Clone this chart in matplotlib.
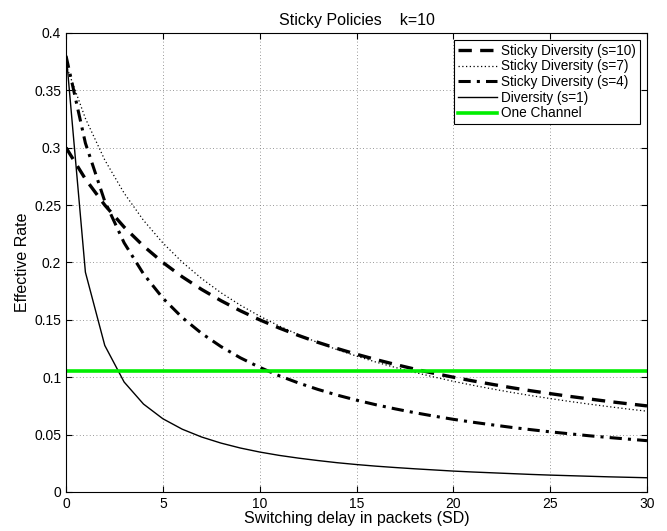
import matplotlib
matplotlib.use('Agg')
import matplotlib.pyplot as plt

# switching delay in packets (SD)
sd = list(range(0, 31))

sticky_s10 = [0.3, 0.2727, 0.25, 0.2308, 0.2143, 0.2, 0.1875, 0.1765, 0.1667, 0.1579,
              0.15, 0.1429, 0.1364, 0.1304, 0.125, 0.12, 0.1154, 0.1111, 0.1071, 0.1034,
              0.1, 0.0968, 0.0938, 0.0909, 0.0882, 0.0857, 0.0833, 0.0811, 0.0789, 0.0769,
              0.075]
sticky_s7 = [0.372, 0.3255, 0.2893, 0.2604, 0.2367, 0.217, 0.2003, 0.186, 0.1736, 0.1628,
             0.1532, 0.1447, 0.1371, 0.1302, 0.124, 0.1184, 0.1132, 0.1085, 0.1042, 0.1002,
             0.0964, 0.093, 0.0898, 0.0868, 0.084, 0.0814, 0.0789, 0.0766, 0.0744, 0.0723,
             0.0704]
sticky_s4 = [0.38, 0.304, 0.2533, 0.2171, 0.19, 0.1689, 0.152, 0.1382, 0.1267, 0.1169,
             0.1086, 0.1013, 0.095, 0.0894, 0.0844, 0.08, 0.076, 0.0724, 0.0691, 0.0661,
             0.0633, 0.0608, 0.0585, 0.0563, 0.0543, 0.0524, 0.0507, 0.049, 0.0475, 0.0461,
             0.0447]
diversity_s1 = [0.383, 0.1915, 0.1277, 0.0958, 0.0766, 0.0638, 0.0547, 0.0479, 0.0426, 0.0383,
                0.0348, 0.0319, 0.0295, 0.0274, 0.0255, 0.0239, 0.0225, 0.0213, 0.0202, 0.0192,
                0.0182, 0.0174, 0.0167, 0.016, 0.0153, 0.0147, 0.0142, 0.0137, 0.0132, 0.0128,
                0.0124]
one_channel = 0.105

x_ticks = [0, 5, 10, 15, 20, 25, 30]
y_ticks = [0, 0.05, 0.1, 0.15, 0.2, 0.25, 0.3, 0.35, 0.4]
y_tick_labels = ['0', '0.05', '0.1', '0.15', '0.2', '0.25', '0.3', '0.35', '0.4']

plt.rcParams['font.family'] = ['Liberation Sans', 'DejaVu Sans']

fig = plt.figure(figsize=(6.67, 5.31), dpi=100)
ax = fig.add_axes([0.099, 0.0735, 0.871, 0.8645])

ax.plot(sd, sticky_s10, color='black', linestyle=(0, (4, 2.5)), linewidth=2.4,
        label='Sticky Diversity (s=10)')
ax.plot(sd, sticky_s7, color='black', linestyle=(0, (1, 2)), linewidth=0.9,
        label='Sticky Diversity (s=7)')
ax.plot(sd, sticky_s4, color='black', linestyle=(0, (4, 2, 1, 2)), linewidth=2.2,
        label='Sticky Diversity (s=4)')
ax.plot(sd, diversity_s1, color='black', linestyle='-', linewidth=1.0,
        label='Diversity (s=1)')
ax.plot([sd[0], sd[-1]], [one_channel, one_channel], color='#00ee00', linewidth=2.6,
        label='One Channel')

ax.set_xlim(0, 30)
ax.set_ylim(0, 0.4)
ax.set_xticks(x_ticks)
ax.set_yticks(y_ticks)
ax.set_yticklabels(y_tick_labels)
ax.tick_params(direction='in', labelsize=10, length=4, width=0.8, top=True, right=True)
ax.grid(True, linestyle=(0, (1, 3)), color='#777777', linewidth=0.6)
for sp in ax.spines.values():
    sp.set_linewidth(0.8)

ax.set_xlabel('Switching delay in packets (SD)', fontsize=11.5, labelpad=0)
ax.set_ylabel('Effective Rate', fontsize=11.5, labelpad=3)
ax.set_title('Sticky Policies    k=10', fontsize=11.5, pad=6)

leg = ax.legend(loc='upper right', fontsize=9.8, frameon=True, fancybox=False,
                edgecolor='black', framealpha=1, borderaxespad=0.5,
                handlelength=2.9, handletextpad=0.3, labelspacing=0.12, borderpad=0.3)
leg.get_frame().set_linewidth(0.8)

fig.savefig('out.png', dpi=100)
